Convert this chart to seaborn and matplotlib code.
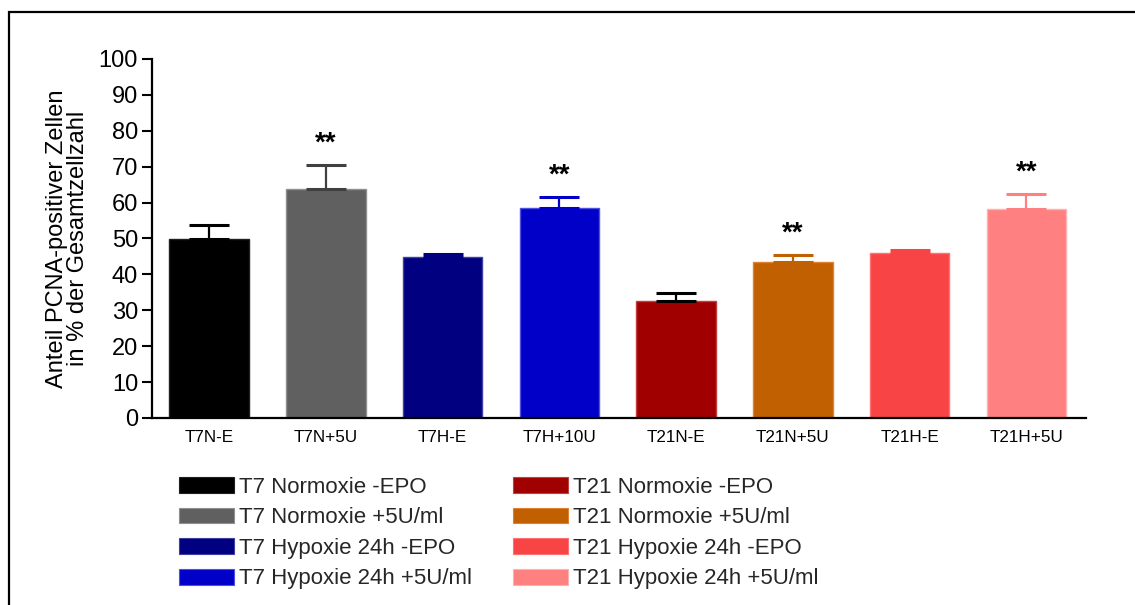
import matplotlib
matplotlib.use("Agg")
import matplotlib.pyplot as plt
from matplotlib.patches import Patch, Rectangle
import seaborn as sns
import numpy as np

# Groups, mean values and SEM (percent PCNA-positive cells)
categories = ["T7N-E", "T7N+5U", "T7H-E", "T7H+10U",
              "T21N-E", "T21N+5U", "T21H-E", "T21H+5U"]
means = [49.9, 63.7, 44.8, 58.6, 32.7, 43.4, 46.0, 58.3]
sems = [3.9, 6.8, 0.8, 2.9, 2.1, 2.1, 0.9, 4.2]
significance = ["", "**", "", "**", "", "**", "", "**"]

bar_colors = ["#000000", "#606060", "#000080", "#0000C8",
              "#A00000", "#C06000", "#F84444", "#FF8080"]
edge_colors = ["#202020", "#909090", "#4040A0", "#5050E0",
               "#C04040", "#E08030", "#FF7070", "#FFB0B0"]
err_colors = ["#000000", "#404040", "#000080", "#0000C8",
              "#000000", "#C06000", "#F84444", "#FF8080"]

legend_labels = ["T7 Normoxie -EPO", "T7 Normoxie +5U/ml",
                 "T7 Hypoxie 24h -EPO", "T7 Hypoxie 24h +5U/ml",
                 "T21 Normoxie -EPO", "T21 Normoxie +5U/ml",
                 "T21 Hypoxie 24h -EPO", "T21 Hypoxie 24h +5U/ml"]

ylabel_text = "Anteil PCNA-positiver Zellen\nin % der Gesamtzellzahl"

sns.set_theme(style="ticks")
plt.rcParams["font.family"] = ["Liberation Sans", "DejaVu Sans"]

fig = plt.figure(figsize=(11.35, 6.05), dpi=100)
ax = fig.add_axes([0.1339, 0.3091, 0.8229, 0.5934])

sns.barplot(x=categories, y=means, hue=categories, palette=bar_colors,
            legend=False, width=0.68, ax=ax, saturation=1, errorbar=None)
for patch, ec in zip(ax.patches, edge_colors):
    patch.set_edgecolor(ec)
    patch.set_linewidth(1.0)

xpos = np.arange(len(categories))
for x, m, s, c in zip(xpos, means, sems, err_colors):
    ax.errorbar(x, m, yerr=[[0], [s]], fmt="none", ecolor=c,
                elinewidth=1.6, capsize=14.5, capthick=2.2, zorder=3)

for x, m, s, sig in zip(xpos, means, sems, significance):
    if sig:
        ax.text(x, m + s + 4.0, sig, ha="center", va="baseline",
                fontsize=20, fontweight="bold", color="black")

ax.set_xlim(-0.49, 7.51)
ax.set_ylim(0, 100)
ax.set_yticks(np.arange(0, 101, 10))
ax.tick_params(axis="y", labelsize=17, length=7, width=1.5, pad=3,
               color="black", labelcolor="black")
ax.tick_params(axis="x", labelsize=12.3, length=0, pad=9, labelcolor="black")
ax.set_xlabel("")
ax.set_ylabel(ylabel_text, fontsize=17, labelpad=7, linespacing=0.93,
              color="black")
sns.despine(ax=ax)
for side in ["left", "bottom"]:
    ax.spines[side].set_linewidth(1.6)
    ax.spines[side].set_color("black")

handles = [Patch(facecolor=fc, edgecolor=ec, linewidth=0.8)
           for fc, ec in zip(bar_colors, edge_colors)]
fig.legend(handles, legend_labels, ncol=2, loc="upper left",
           bbox_to_anchor=(0.158, 0.212), frameon=False, fontsize=16,
           handlelength=2.45, handleheight=0.72, handletextpad=0.25,
           labelspacing=0.43, columnspacing=1.85, borderpad=0, borderaxespad=0)

# outer frame line along the top and left edges
fig.add_artist(Rectangle((9 / 1135, -0.2), 1.2, 0.98 + 0.2,
                         transform=fig.transFigure, fill=False,
                         edgecolor="black", linewidth=1.6, clip_on=False))

fig.savefig("out.png", dpi=100)
